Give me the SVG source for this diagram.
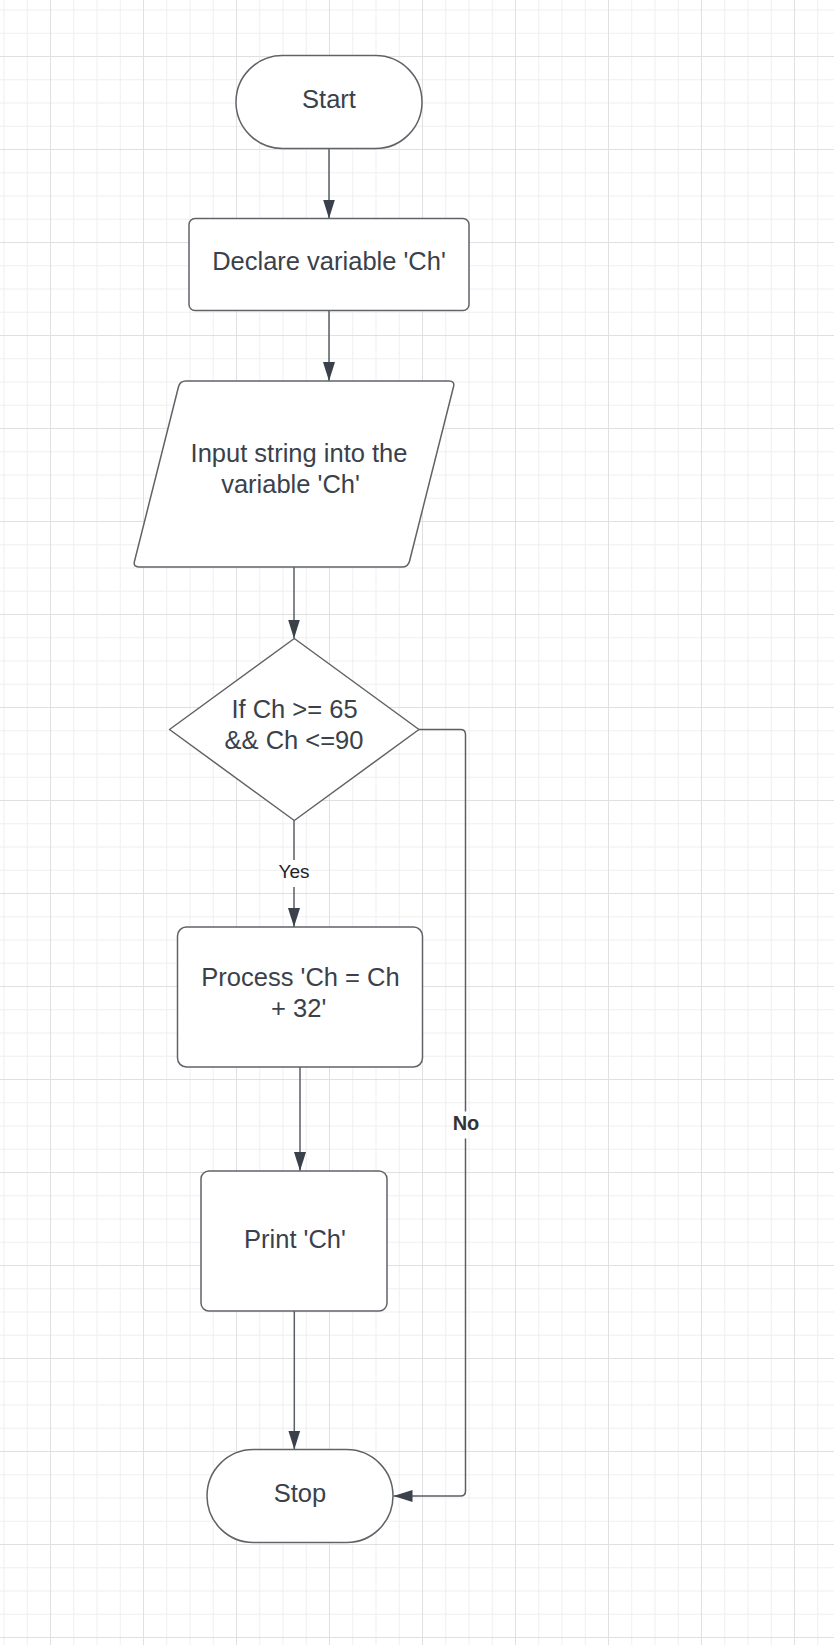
<svg xmlns="http://www.w3.org/2000/svg" width="834" height="1645" viewBox="0 0 834 1645">
<style>
.node{fill:#ffffff;stroke:#5f6368;stroke-width:1.5;stroke-linejoin:round}
.t{font-family:"Liberation Sans",Arial,sans-serif;font-size:25.5px;fill:#3a414a;text-anchor:middle}
.lbl{font-family:"Liberation Sans",Arial,sans-serif;font-size:19px;fill:#222222;text-anchor:middle}
.conn{fill:none;stroke:#5a5f66;stroke-width:1.5}
</style>
<defs>
<pattern id="grid" patternUnits="userSpaceOnUse" x="50" y="56" width="93" height="93">
<path d="M23.75,0V93M47,0V93M70.25,0V93M0,23.75H93M0,47H93M0,70.25H93" stroke="#efefef" stroke-width="1" fill="none"/>
<path d="M0.5,0V93M0,0.5H93" stroke="#e0e0e0" stroke-width="1" fill="none"/>
</pattern>
<marker id="arr" markerUnits="userSpaceOnUse" markerWidth="20" markerHeight="14" refX="19" refY="6" orient="auto">
<path d="M0,0L19,6L0,12Z" fill="#3a414a"/>
</marker>
</defs>
<rect x="0" y="0" width="834" height="1645" fill="#ffffff"/>
<rect x="0" y="0" width="834" height="1645" fill="url(#grid)"/>

<g id="connectors">
<path class="conn" d="M329,148.5V218.5" marker-end="url(#arr)"/>
<path class="conn" d="M329,310.5V381" marker-end="url(#arr)"/>
<path class="conn" d="M294,567V638.5" marker-end="url(#arr)"/>
<path class="conn" d="M294,820.5V860"/>
<path class="conn" d="M294,887V927" marker-end="url(#arr)"/>
<text class="lbl" x="294" y="877.5">Yes</text>
<path class="conn" d="M300,1067V1171" marker-end="url(#arr)"/>
<path class="conn" d="M294.3,1311V1449.5" marker-end="url(#arr)"/>
<path class="conn" d="M419,729.5H460.5Q465.5,729.5 465.5,734.5V1111.5"/>
<path class="conn" d="M465.5,1138.5V1491Q465.5,1496 460.5,1496H393.5" marker-end="url(#arr)"/>
<text class="lbl" x="466" y="1129.5" style="font-weight:bold;font-size:20px;fill:#333333">No</text>
</g>

<g id="start">
<rect class="node" x="236" y="55.5" width="186" height="93" rx="46.5"/>
<text class="t" x="329" y="108">Start</text>
</g>
<g id="declare">
<rect class="node" x="189" y="218.5" width="280" height="92" rx="6"/>
<text class="t" x="329" y="270">Declare variable 'Ch'</text>
</g>
<g id="input">
<path class="node" d="M186,381H449Q455,381 453.5,386.8L409.5,561.2Q408,567 402,567H139Q133,567 134.5,561.2L178.5,386.8Q180,381 186,381Z"/>
<text class="t" x="299" y="462">Input string into the</text>
<text class="t" x="290.5" y="493">variable 'Ch'</text>
</g>
<g id="decision">
<polygon class="node" points="294.3,638.5 419,729.5 294.3,820.5 169.5,729.5"/>
<text class="t" x="294.5" y="718">If Ch &gt;= 65</text>
<text class="t" x="294" y="748.5">&amp;&amp; Ch &lt;=90</text>
</g>
<g id="process">
<rect class="node" x="177.5" y="927" width="245" height="140" rx="9"/>
<text class="t" x="300.5" y="986">Process 'Ch = Ch</text>
<text class="t" x="298.7" y="1017">+ 32'</text>
</g>
<g id="print">
<rect class="node" x="201" y="1171" width="186" height="140" rx="8"/>
<text class="t" x="295" y="1247.5">Print 'Ch'</text>
</g>
<g id="stop">
<rect class="node" x="207" y="1449.5" width="186" height="93" rx="46.5"/>
<text class="t" x="300" y="1502">Stop</text>
</g>
</svg>
